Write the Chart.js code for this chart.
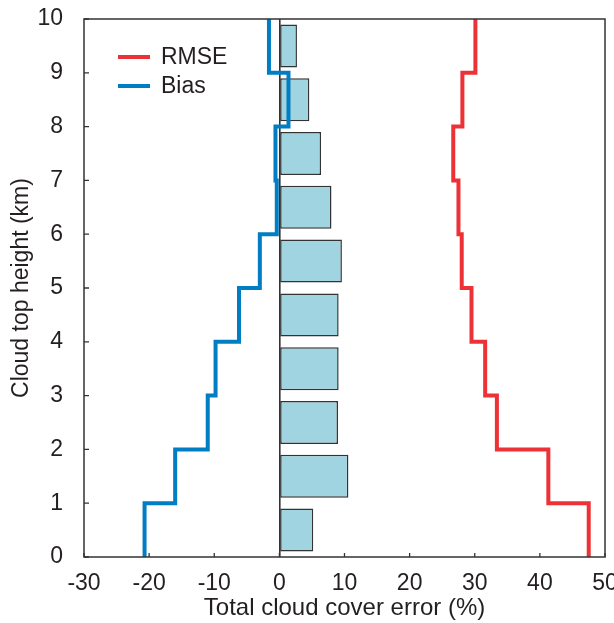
<!DOCTYPE html>
<html>
<head>
<meta charset="utf-8">
<script src="https://cdn.jsdelivr.net/npm/chart.js@4"></script>
<style>
  html, body { margin: 0; padding: 0; background: #fff; overflow: hidden; }
  #wrap { width: 614px; height: 623px; position: relative; }
</style>
</head>
<body>
<div id="wrap"><canvas id="c"></canvas></div>
<script>
// ---- data ----
const heightBands = [0, 1, 2, 3, 4, 5, 6, 7, 8, 9];          // km, bottom of each 1-km band
const totalCloudError = [5.2, 10.6, 9.0, 9.1, 9.1, 9.6, 8.0, 6.4, 4.6, 2.7]; // bars (%)
const rmseValues = [47.5, 41.3, 33.4, 31.6, 29.5, 28.0, 27.5, 26.7, 28.1, 30.1]; // %
const biasValues = [-20.7, -16.0, -11.0, -9.8, -6.2, -3.0, -0.4, -0.6, 1.4, -1.6]; // %
const xTicks = [-30, -20, -10, 0, 10, 20, 30, 40, 50];
const yTicks = [0, 1, 2, 3, 4, 5, 6, 7, 8, 9, 10];
const seriesNames = ['RMSE', 'Bias'];

// ---- helpers building library data from the arrays ----
function stepPoints(vals) {
  const pts = [];
  vals.forEach((v, i) => {
    pts.push({ x: v, y: heightBands[i] });
    pts.push({ x: v, y: heightBands[i] + 1 });
  });
  return pts;
}
const barData = totalCloudError.map((v, i) => ({ x: v, y: heightBands[i] + 0.5 }));

const RED = 'rgb(237,50,55)';
const BLUE = 'rgb(0,125,195)';
const AXIS = '#333333';
const TEXT = '#231f20';
const FONT = '"Liberation Sans", Arial, Helvetica, sans-serif';
const FS = 23;
const FS_TITLE = 24;

const framePlugin = {
  id: 'frame',
  afterDraw(chart) {
    const { ctx, chartArea: a, scales } = chart;
    ctx.save();
    ctx.strokeStyle = AXIS;
    ctx.lineWidth = 1.5;
    ctx.strokeRect(a.left, a.top, a.right - a.left, a.bottom - a.top);
    ctx.lineWidth = 1.3;
    ctx.beginPath();
    xTicks.forEach(t => {
      const px = scales.x.getPixelForValue(t);
      ctx.moveTo(px, a.bottom);
      ctx.lineTo(px, a.bottom - 4);
    });
    yTicks.forEach(t => {
      const py = scales.y.getPixelForValue(t);
      ctx.moveTo(a.left, py);
      ctx.lineTo(a.left + 5, py);
    });
    ctx.stroke();
    // legend
    const colors = [RED, BLUE];
    ctx.font = FS + 'px ' + FONT;
    ctx.fillStyle = TEXT;
    ctx.textBaseline = 'middle';
    seriesNames.forEach((name, i) => {
      const y = a.top + 38 + i * 29;
      ctx.strokeStyle = colors[i];
      ctx.lineWidth = 4;
      ctx.beginPath();
      ctx.moveTo(a.left + 34, y);
      ctx.lineTo(a.left + 66, y);
      ctx.stroke();
      ctx.fillText(name, a.left + 77, y + 1);
    });
    ctx.restore();
  }
};

new Chart(document.getElementById('c'), {
  type: 'bar',
  data: {
    datasets: [
      {
        type: 'line', label: seriesNames[0], data: stepPoints(rmseValues),
        borderColor: RED, borderWidth: 4, pointRadius: 0, tension: 0,
        borderJoinStyle: 'miter', fill: false
      },
      {
        type: 'line', label: seriesNames[1], data: stepPoints(biasValues),
        borderColor: BLUE, borderWidth: 4, pointRadius: 0, tension: 0,
        borderJoinStyle: 'miter', fill: false
      },
      {
        type: 'bar', label: 'Total cloud cover error', data: barData,
        backgroundColor: 'rgb(160,212,224)', borderColor: '#333333',
        borderWidth: 1.5, borderSkipped: false,
        barPercentage: 0.8, categoryPercentage: 1.0
      }
    ]
  },
  options: {
    indexAxis: 'y',
    responsive: true,
    maintainAspectRatio: false,
    animation: false,
    layout: { padding: { top: 19, right: 9, left: 0, bottom: 0 } },
    plugins: { legend: { display: false }, tooltip: { enabled: false } },
    scales: {
      x: {
        type: 'linear', min: -30, max: 50, offset: false,
        afterBuildTicks: s => { s.ticks = xTicks.map(v => ({ value: v })); },
        afterFit: s => { s.height = 66; s.paddingLeft = 0; s.paddingRight = 0; },
        grid: {
          drawTicks: false, offset: false,
          color: c => (c.tick && c.tick.value === 0) ? AXIS : 'rgba(0,0,0,0)',
          lineWidth: 1.6
        },
        border: { display: false },
        ticks: { font: { family: FONT, size: FS }, color: TEXT, padding: 13, maxRotation: 0 },
        title: { display: true, text: 'Total cloud cover error (%)',
                 font: { family: FONT, size: FS_TITLE }, color: TEXT, padding: { top: 0, bottom: 0 } }
      },
      y: {
        type: 'linear', min: 0, max: 10, offset: false,
        afterBuildTicks: s => { s.ticks = yTicks.map(v => ({ value: v })); },
        afterFit: s => { s.width = 84; s.paddingTop = 0; s.paddingBottom = 0; },
        grid: { display: false, drawTicks: false, offset: false },
        border: { display: false },
        ticks: { font: { family: FONT, size: FS }, color: TEXT, padding: 21 },
        title: { display: true, text: 'Cloud top height (km)',
                 font: { family: FONT, size: FS }, color: TEXT, padding: { top: 8, bottom: 0 } }
      }
    }
  },
  plugins: [framePlugin]
});
</script>
</body>
</html>
